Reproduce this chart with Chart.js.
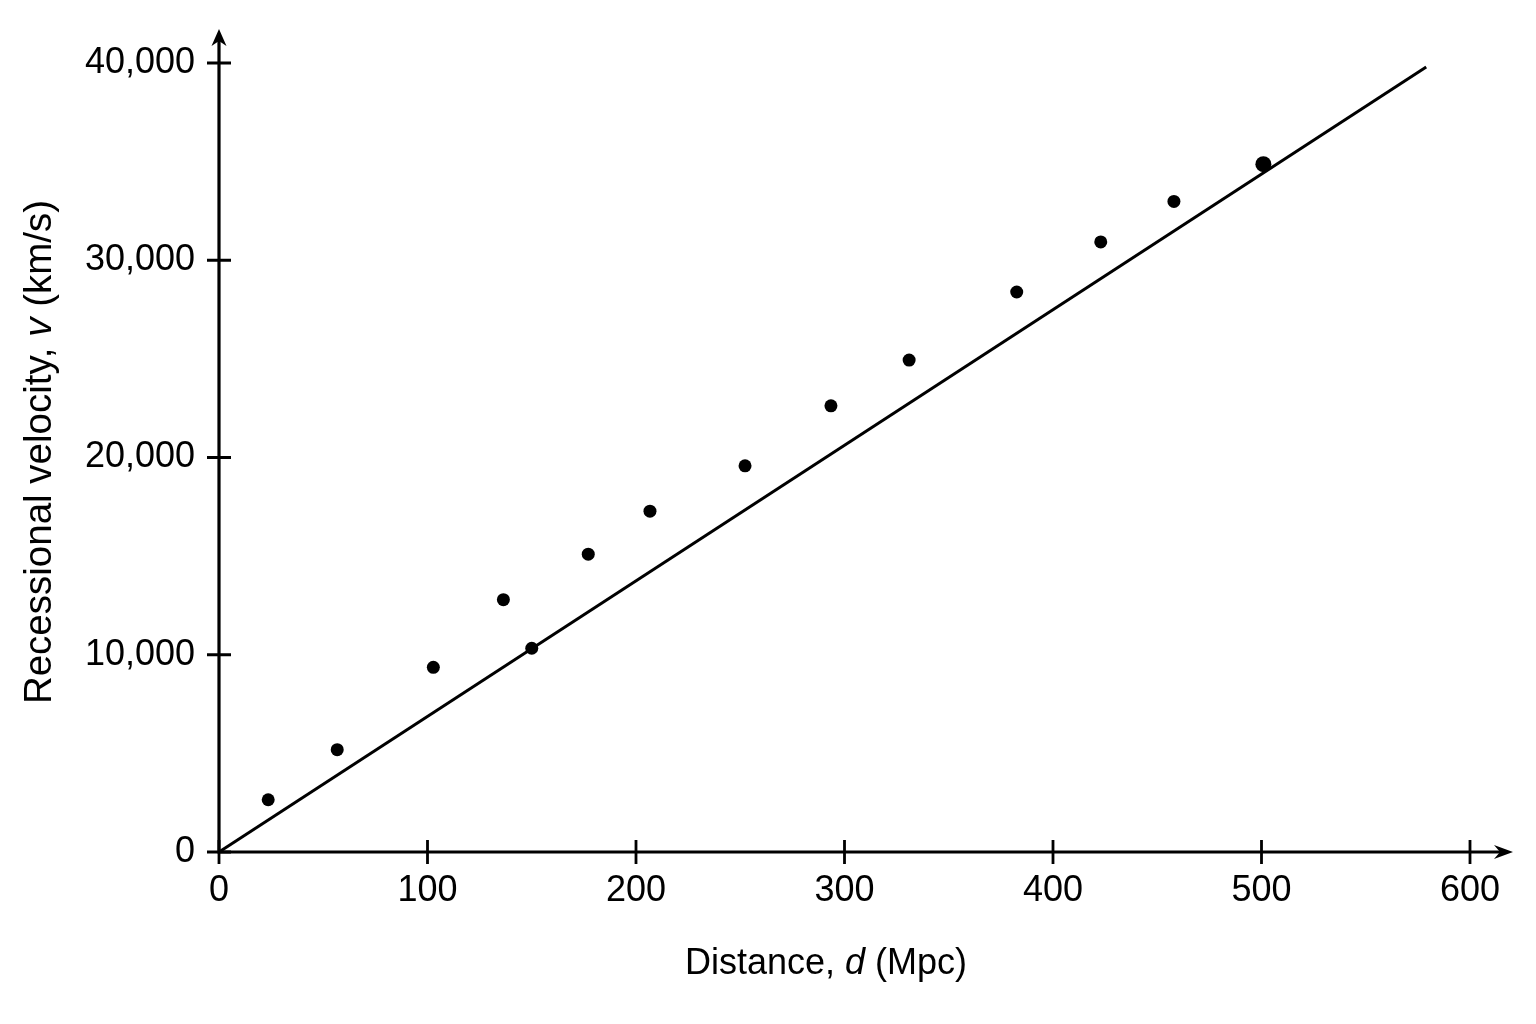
<!DOCTYPE html>
<html>
<head>
<meta charset="utf-8">
<script src="https://cdn.jsdelivr.net/npm/chart.js@4.4.1/dist/chart.umd.min.js"></script>
<style>
  html, body { margin: 0; padding: 0; background: #ffffff; }
  #wrap { width: 1536px; height: 1024px; position: relative; }
</style>
</head>
<body>
<div id="wrap"><canvas id="c"></canvas></div>
<script>
// ---- data ----
const distanceMpc = [23.6, 56.7, 102.8, 136.4, 150, 177.1, 206.7, 252.3, 293.5, 331, 382.6, 422.9, 458, 500.9];
const velocityKms = [2650, 5190, 9360, 12790, 10330, 15100, 17280, 19580, 22620, 24940, 28390, 30930, 32980, 34870];
const pointSizes  = [6.5, 6.5, 6.5, 6.5, 6.5, 6.5, 6.5, 6.5, 6.5, 6.5, 6.5, 6.5, 6.5, 8];
const fitDistance = [0, 579];
const fitVelocity = [0, 39800];
const xTickValues = [0, 100, 200, 300, 400, 500, 600];
const yTickValues = [0, 10000, 20000, 30000, 40000];
const xTitleParts = [["Distance, ", "normal"], ["d", "italic"], [" (Mpc)", "normal"]];
const yTitleParts = [["Recessional velocity, ", "normal"], ["v", "italic"], [" (km/s)", "normal"]];

const FONT = "'Liberation Sans', Arial, Helvetica, sans-serif";
Chart.defaults.font.family = FONT;
Chart.defaults.color = '#000';

function drawParts(ctx, parts, size) {
  let total = 0;
  const widths = parts.map(([t, st]) => {
    ctx.font = st + ' ' + size + 'px ' + FONT;
    const w = ctx.measureText(t).width; total += w; return w;
  });
  let x = -total / 2;
  parts.forEach(([t, st], i) => {
    ctx.font = st + ' ' + size + 'px ' + FONT;
    ctx.fillText(t, x, 0);
    x += widths[i];
  });
}

const axesPlugin = {
  id: 'axesArrows',
  afterDraw(chart) {
    const ctx = chart.ctx;
    const xs = chart.scales.x, ys = chart.scales.y;
    const a = chart.chartArea;
    const x0 = xs.getPixelForValue(0), y0 = ys.getPixelForValue(0);
    ctx.save();
    ctx.strokeStyle = '#000';
    ctx.fillStyle = '#000';
    ctx.lineWidth = 3.2;
    ctx.lineCap = 'butt';
    const yTip = a.top - 34, xTip = a.right + 43;
    // axis lines
    ctx.beginPath();
    ctx.moveTo(x0, y0 + 1.6); ctx.lineTo(x0, yTip + 8);
    ctx.moveTo(x0 - 1.6, y0); ctx.lineTo(xTip - 8, y0);
    ctx.stroke();
    // ticks crossing axes
    ctx.lineWidth = 2.8;
    ctx.beginPath();
    yTickValues.forEach(v => {
      const p = ys.getPixelForValue(v);
      ctx.moveTo(x0 - 12, p); ctx.lineTo(x0 + 12, p);
    });
    xTickValues.forEach(v => {
      const p = xs.getPixelForValue(v);
      ctx.moveTo(p, y0 - 12); ctx.lineTo(p, y0 + 12);
    });
    ctx.stroke();
    // arrowheads
    ctx.beginPath();
    ctx.moveTo(x0, yTip);
    ctx.lineTo(x0 + 7.5, yTip + 17);
    ctx.lineTo(x0, yTip + 12);
    ctx.lineTo(x0 - 7.5, yTip + 17);
    ctx.closePath();
    ctx.fill();
    ctx.beginPath();
    ctx.moveTo(xTip, y0);
    ctx.lineTo(xTip - 19, y0 - 7);
    ctx.lineTo(xTip - 13, y0);
    ctx.lineTo(xTip - 19, y0 + 7);
    ctx.closePath();
    ctx.fill();
    // axis titles
    ctx.textBaseline = 'middle';
    ctx.textAlign = 'left';
    ctx.save();
    ctx.translate(826, 964);
    drawParts(ctx, xTitleParts, 36);
    ctx.restore();
    ctx.save();
    ctx.translate(40, 452);
    ctx.rotate(-Math.PI / 2);
    drawParts(ctx, yTitleParts, 38.5);
    ctx.restore();
    ctx.restore();
  }
};

const chart = new Chart(document.getElementById('c'), {
  type: 'scatter',
  data: {
    datasets: [
      {
        label: 'fit',
        data: fitDistance.map((d, i) => ({ x: d, y: fitVelocity[i] })),
        showLine: true,
        borderColor: '#000',
        borderWidth: 3,
        pointRadius: 0,
        fill: false,
        order: 2
      },
      {
        label: 'galaxies',
        data: distanceMpc.map((d, i) => ({ x: d, y: velocityKms[i] })),
        backgroundColor: '#000',
        borderColor: '#000',
        borderWidth: 0,
        pointRadius: pointSizes,
        order: 1
      }
    ]
  },
  options: {
    responsive: true,
    maintainAspectRatio: false,
    animation: false,
    events: [],
    layout: { padding: { left: 0, right: 66, top: 63, bottom: 0 } },
    plugins: { legend: { display: false }, tooltip: { enabled: false } },
    scales: {
      x: {
        type: 'linear',
        min: 0, max: 600,
        grid: { display: false, drawTicks: false },
        border: { display: false },
        afterBuildTicks: s => { s.ticks = xTickValues.map(v => ({ value: v })); },
        afterFit: s => { s.height = 172; },
        ticks: { padding: 17, font: { size: 36 }, color: '#000', maxRotation: 0, callback: v => String(v) }
      },
      y: {
        type: 'linear',
        min: 0, max: 40000,
        grid: { display: false, drawTicks: false },
        border: { display: false },
        afterBuildTicks: s => { s.ticks = yTickValues.map(v => ({ value: v })); },
        afterFit: s => { s.width = 219; },
        ticks: { padding: 24, font: { size: 36 }, color: '#000', callback: v => v.toLocaleString('en-US') }
      }
    }
  },
  plugins: [axesPlugin]
});
</script>
</body>
</html>
